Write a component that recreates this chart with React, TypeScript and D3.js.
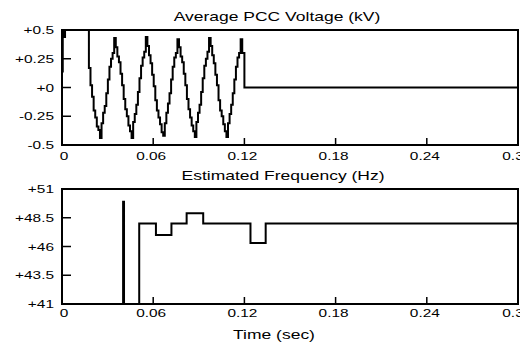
import React from "react";
import * as d3 from "d3";

// ---- Data ----
const xTicks = [0, 0.06, 0.12, 0.18, 0.24, 0.3];
const xTickLabels = ["0", "0.06", "0.12", "0.18", "0.24", "0.3"];

const voltTicks = [0.5, 0.25, 0, -0.25, -0.5];
const voltTickLabels = ["+0.5", "+0.25", "+0", "-0.25", "-0.5"];

const freqTicks = [51, 48.5, 46, 43.5, 41];
const freqTickLabels = ["+51", "+48.5", "+46", "+43.5", "+41"];

// initial transient (time, value)
const voltHeadT = [0, 0.0005, 0.0008, 0.002];
const voltHeadV = [0.14, 0.8, 0.44, 0.8];
// sampled (sample & hold) voltage, start time and sample interval
const voltSampleStart = 0.0177;
const voltSampleDt = 0.00104;
const voltSamples = [
  0.17, 0.02, -0.08, -0.2, -0.26, -0.34, -0.37,
  -0.44, -0.31, -0.22, -0.16, -0.05, 0.07, 0.18, 0.25, 0.3, 0.43, 0.35, 0.27, 0.22, 0.12, 0.02, -0.1, -0.19, -0.25, -0.33, -0.38,
  -0.44, -0.3, -0.23, -0.15, -0.04, 0.08, 0.19, 0.26, 0.31, 0.44, 0.36, 0.28, 0.21, 0.11, 0.01, -0.11, -0.2, -0.26, -0.32, -0.39,
  -0.42, -0.31, -0.22, -0.14, -0.05, 0.07, 0.18, 0.26, 0.3, 0.42, 0.35, 0.27, 0.22, 0.12, 0.02, -0.1, -0.19, -0.26, -0.33, -0.38,
  -0.43, -0.3, -0.22, -0.15, -0.04, 0.08, 0.19, 0.25, 0.31, 0.43, 0.36, 0.28, 0.21, 0.11, 0.02, -0.11, -0.2, -0.25, -0.32, -0.38,
  -0.43, -0.31, -0.23, -0.15, -0.05, 0.07, 0.18, 0.26, 0.3, 0.42, 0.3,
];
const voltTailT = [0.12, 0.3];
const voltTailV = [0, 0];

const freqT = [0, 0.0402, 0.0408, 0.0508, 0.0618, 0.072, 0.082, 0.0929, 0.124, 0.134, 0.3];
const freqV = [41, 49.9, 41, 48, 47, 48, 48.9, 48, 46.3, 48, 48];

// ---- Layout ----
const W = 520;
const H = 344;
const left = 62;
const right = 518;
const top1 = 30;
const bot1 = 145;
const top2 = 189;
const bot2 = 304;
const SX = 1.4; // horizontal stretch of text
const FONT = "'Liberation Sans', Arial, sans-serif";

const x = d3.scaleLinear().domain([0, 0.3]).range([left, right]);
const yV = d3.scaleLinear().domain([-0.5, 0.5]).range([bot1, top1]);
const yF = d3.scaleLinear().domain([41, 51]).range([bot2, top2]);

function T({ x: tx, y: ty, anchor = "middle", size = 11, children }: any) {
  return (
    <text
      transform={`translate(${tx},${ty}) scale(${SX},1)`}
      textAnchor={anchor}
      fontFamily={FONT}
      fontSize={size}
      fill="#000"
    >
      {children}
    </text>
  );
}

export default function App() {
  const voltPts: [number, number][] = [];
  voltHeadT.forEach((t, i) => voltPts.push([t, voltHeadV[i]]));
  voltSamples.forEach((v, i) => voltPts.push([voltSampleStart + i * voltSampleDt, v]));
  voltTailT.forEach((t, i) => voltPts.push([t, voltTailV[i]]));

  const freqPts: [number, number][] = freqT.map((t, i) => [t, freqV[i]]);

  const lineV = d3
    .line<[number, number]>()
    .x((d) => x(d[0]))
    .y((d) => yV(d[1]))
    .curve(d3.curveStepAfter);
  const lineF = d3
    .line<[number, number]>()
    .x((d) => x(d[0]))
    .y((d) => yF(d[1]))
    .curve(d3.curveStepAfter);

  const xLabelDx = (i: number) => (i === 0 ? 2 : i === xTicks.length - 1 ? -5 : -2);

  const panel = (
    yScale: d3.ScaleLinear<number, number>,
    ticks: number[],
    labels: string[],
    t: number,
    b: number,
    labelBase: number
  ) => (
    <g>
      {ticks.map((v, i) => (
        <g key={"y" + i}>
          {i > 0 && i < ticks.length - 1 && (
            <line x1={left} x2={left + 9} y1={yScale(v)} y2={yScale(v)} stroke="#000" strokeWidth={1.5} />
          )}
          <T x={54} y={yScale(v) + 4} anchor="end">
            {labels[i]}
          </T>
        </g>
      ))}
      {xTicks.map((v, i) => (
        <g key={"x" + i}>
          {i > 0 && i < xTicks.length - 1 && (
            <line x1={x(v)} x2={x(v)} y1={b} y2={b - 7} stroke="#000" strokeWidth={1.5} />
          )}
          <T x={x(v) + xLabelDx(i)} y={labelBase}>
            {xTickLabels[i]}
          </T>
        </g>
      ))}
      <rect x={left} y={t} width={right - left} height={b - t} fill="none" stroke="#000" strokeWidth={2} />
    </g>
  );

  return (
    <svg
      width={W}
      height={H}
      style={{ position: "absolute", left: 0, top: 0, background: "#fff" }}
    >
      <rect x={0} y={0} width={W} height={H} fill="#fff" />
      <defs>
        <clipPath id="c1">
          <rect x={left} y={top1} width={right - left} height={bot1 - top1} />
        </clipPath>
        <clipPath id="c2">
          <rect x={left} y={top2} width={right - left} height={bot2 - top2} />
        </clipPath>
      </defs>

      <T x={277} y={21} size={12.5}>Average PCC Voltage (kV)</T>
      <path d={lineV(voltPts) || ""} fill="none" stroke="#000" strokeWidth={2} clipPath="url(#c1)" />
      {panel(yV, voltTicks, voltTickLabels, top1, bot1, 159.5)}

      <T x={283} y={180} size={12.5}>Estimated Frequency (Hz)</T>
      <path d={lineF(freqPts) || ""} fill="none" stroke="#000" strokeWidth={2} clipPath="url(#c2)" />
      {panel(yF, freqTicks, freqTickLabels, top2, bot2, 317)}

      <T x={274} y={339} size={12.5}>Time (sec)</T>
    </svg>
  );
}
